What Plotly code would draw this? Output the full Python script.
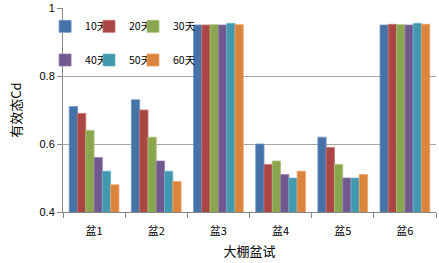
import plotly.graph_objects as go

categories = ["盆1", "盆2", "盆3", "盆4", "盆5", "盆6"]
series_names = ["10天", "20天", "30天", "40天", "50天", "60天"]
v10 = [0.71, 0.73, 0.95, 0.60, 0.62, 0.95]
v20 = [0.69, 0.70, 0.95, 0.54, 0.59, 0.952]
v30 = [0.64, 0.62, 0.951, 0.55, 0.54, 0.951]
v40 = [0.56, 0.55, 0.95, 0.51, 0.50, 0.95]
v50 = [0.52, 0.52, 0.955, 0.50, 0.50, 0.955]
v60 = [0.48, 0.49, 0.951, 0.52, 0.51, 0.952]
values = [v10, v20, v30, v40, v50, v60]
ytick_vals = [0.4, 0.6, 0.8, 1.0]
ytick_text = ["0.4", "0.6", "0.8", "1"]
colors = ["#4572A7", "#AA4643", "#89A54E", "#71588F", "#4198AF", "#DB843D"]
edges = ["#6F93C4", "#C8706D", "#A9C478", "#9580AE", "#6FB8CB", "#EAA36A"]

legend_ids = ["legend", "legend2", "legend3", "legend4", "legend5", "legend6"]
legend_x = [-0.048, 0.0697, 0.1877]
legend_y = [0.91, 0.745]

fig = go.Figure()
for i, (name, vals) in enumerate(zip(series_names, values)):
    fig.add_trace(go.Bar(
        x=categories, y=vals, name=name, showlegend=True,
        marker=dict(color=colors[i], line=dict(color=edges[i], width=0.8)),
        legend=legend_ids[i],
    ))

layout_legends = {}
for i, lid in enumerate(legend_ids):
    layout_legends[lid] = dict(
        x=legend_x[i % 3], y=legend_y[i // 3],
        xanchor="left", yanchor="middle", orientation="h",
        font=dict(family="Noto Sans CJK SC", size=10.5, color="#000000"),
        bgcolor="rgba(0,0,0,0)", itemwidth=30, visible=True,
    )

fig.update_layout(
    width=439, height=263,
    margin=dict(l=63, r=3, t=8, b=51),
    paper_bgcolor="white", plot_bgcolor="white",
    showlegend=True,
    barmode="group", bargap=0.2, bargroupgap=0,
    font=dict(family="Noto Sans CJK SC", size=11, color="#000000"),
    xaxis=dict(
        showline=True, linecolor="#868686", linewidth=1,
        ticks="outside", tickson="boundaries", ticklen=5, tickcolor="#868686",
        tickfont=dict(size=11), ticklabelstandoff=9,
        title=dict(text="大棚盆试", font=dict(size=13), standoff=9),
    ),
    yaxis=dict(
        range=[0.4, 1.0], tickvals=ytick_vals, ticktext=ytick_text,
        showgrid=True, gridcolor="#A6A6A6", gridwidth=1,
        showline=True, linecolor="#868686", linewidth=1,
        ticks="outside", ticklen=5, tickcolor="#868686",
        tickfont=dict(family="Liberation Sans", size=11),
        title=dict(text="有效态Cd", font=dict(size=13), standoff=14),
        zeroline=False,
    ),
    **layout_legends,
)

fig.write_html("out.html")
